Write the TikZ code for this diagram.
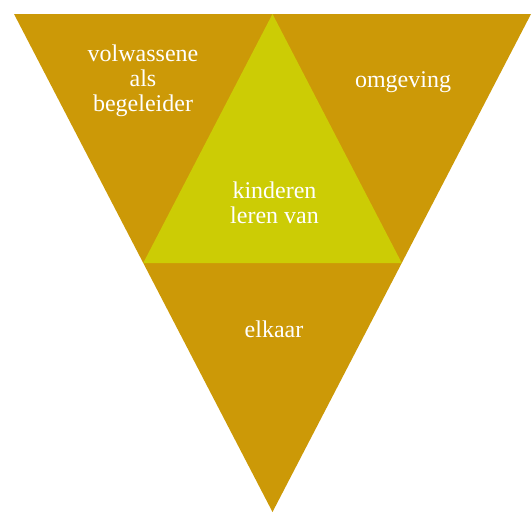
\documentclass[tikz,border=0pt]{standalone}
\usepackage{fontspec}
\setmainfont{Liberation Serif}
\definecolor{outergold}{RGB}{204,153,7}
\definecolor{innerlime}{RGB}{204,204,5}
\begin{document}
\begin{tikzpicture}[x=1pt,y=-1pt,
  lbl/.style={text=white,font=\fontsize{24}{24.6}\selectfont,align=center,inner sep=0pt}]
\useasboundingbox (0,0) rectangle (532,514);
\coordinate (A) at (14,14);
\coordinate (B) at (531,14);
\coordinate (C) at (272.5,512);
\coordinate (M) at (272.5,14);
\coordinate (L) at (143.25,263);
\coordinate (R) at (401.75,263);
\fill[outergold] (A) -- (B) -- (C) -- cycle;
\fill[innerlime] (M) -- (R) -- (L) -- cycle;
\node[lbl,anchor=base] (vol) at (143,111) {volwassene\\als\\begeleider};
\node[lbl,anchor=base] (omg) at (403,87.3) {omgeving};
\node[lbl,anchor=base] (kin) at (274.5,223.3) {kinderen\\leren van};
\node[lbl,anchor=base] (elk) at (274,337.7) {elkaar};
\end{tikzpicture}
\end{document}
